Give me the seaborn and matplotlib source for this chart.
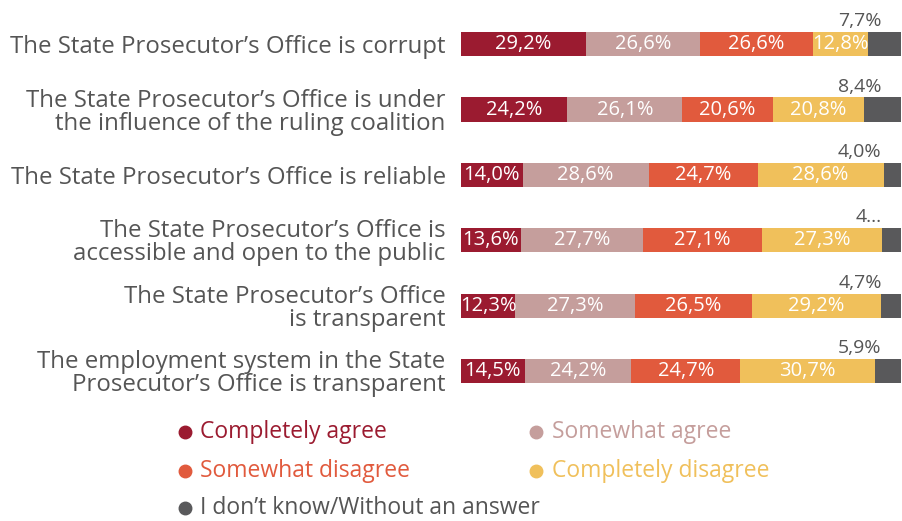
import matplotlib
matplotlib.use("Agg")
import matplotlib.pyplot as plt
import numpy as np
import pandas as pd
import seaborn as sns
from matplotlib.lines import Line2D

statements = [
    "The State Prosecutor\u2019s Office is corrupt",
    "The State Prosecutor\u2019s Office is under\nthe influence of the ruling coalition",
    "The State Prosecutor\u2019s Office is reliable",
    "The State Prosecutor\u2019s Office is\naccessible and open to the public",
    "The State Prosecutor\u2019s Office\nis transparent",
    "The employment system in the State\nProsecutor\u2019s Office is transparent",
]
answers = [
    "Completely agree",
    "Somewhat agree",
    "Somewhat disagree",
    "Completely disagree",
    "I don\u2019t know/Without an answer",
]
completely_agree = [29.2, 24.2, 14.0, 13.6, 12.3, 14.5]
somewhat_agree = [26.6, 26.1, 28.6, 27.7, 27.3, 24.2]
somewhat_disagree = [26.6, 20.6, 24.7, 27.1, 26.5, 24.7]
completely_disagree = [12.8, 20.8, 28.6, 27.3, 29.2, 30.7]
dont_know = [7.7, 8.4, 4.0, 4.3, 4.7, 5.9]
palette = ["#9b1b30", "#c59e9c", "#e15a3d", "#f0c05b", "#59595b"]
text_grey = "#555555"

sns.set_style("white")
plt.rcParams["font.family"] = ["Open Sans", "DejaVu Sans"]

df = pd.DataFrame(
    {
        "statement": statements,
        answers[0]: completely_agree,
        answers[1]: somewhat_agree,
        answers[2]: somewhat_disagree,
        answers[3]: completely_disagree,
        answers[4]: dont_know,
    }
)
# every row fills the full bar width (shares of the row total)
shares = df[answers].div(df[answers].sum(axis=1), axis=0) * 100
cum = shares.cumsum(axis=1)

fig = plt.figure(figsize=(9.03, 5.21), dpi=100)
ax = fig.add_axes([0.5105, 0.225, 0.4875, 0.753])

# stacked bars: draw cumulative totals from the longest down
for i in reversed(range(len(answers))):
    sns.barplot(
        x=cum[answers[i]],
        y=df["statement"],
        orient="h",
        color=palette[i],
        width=0.37,
        saturation=1,
        linewidth=0,
        ax=ax,
    )

for r in range(len(df)):
    for i, a in enumerate(answers[:-1]):
        w = shares.loc[r, a]
        ax.text(
            cum.loc[r, a] - w / 2,
            r,
            f"{df.loc[r, a]:.1f}%".replace(".", ","),
            ha="center",
            va="center",
            color="white",
            fontsize=14.5,
        )
    v = df.loc[r, answers[-1]]
    lab = f"{v:.1f}%".replace(".", ",")
    if r == 3:
        lab = "4..."
    ax.annotate(
        lab,
        xy=(1, r - 0.19),
        xycoords=("axes fraction", "data"),
        xytext=(-14, 1),
        textcoords="offset points",
        ha="right",
        va="bottom",
        color=text_grey,
        fontsize=14,
    )

ax.set_xlim(0, 100)
ax.set_ylim(5.5, -0.5)
ax.set_xlabel("")
ax.set_ylabel("")
ax.set_xticks([])
ax.tick_params(axis="y", length=0, pad=11)
for t in ax.get_yticklabels():
    t.set_fontsize(17.3)
    t.set_color(text_grey)
    t.set_linespacing(0.95)
    t.set_ha("right")
sns.despine(ax=ax, left=True, bottom=True)

# legend drawn as markers and coloured text
legend_pos = [(0.205, 0.171), (0.594, 0.171), (0.205, 0.096), (0.594, 0.096), (0.205, 0.024)]
for (x, y), a, c in zip(legend_pos, answers, palette):
    fig.add_artist(
        Line2D([x], [y], marker="o", markersize=9, color=c, linestyle="none",
               transform=fig.transFigure)
    )
    tc = text_grey if c == palette[-1] else c
    fig.text(x + 0.017, y, a, color=tc, fontsize=16.5, va="center", ha="left")

fig.savefig("out.png", dpi=100)
